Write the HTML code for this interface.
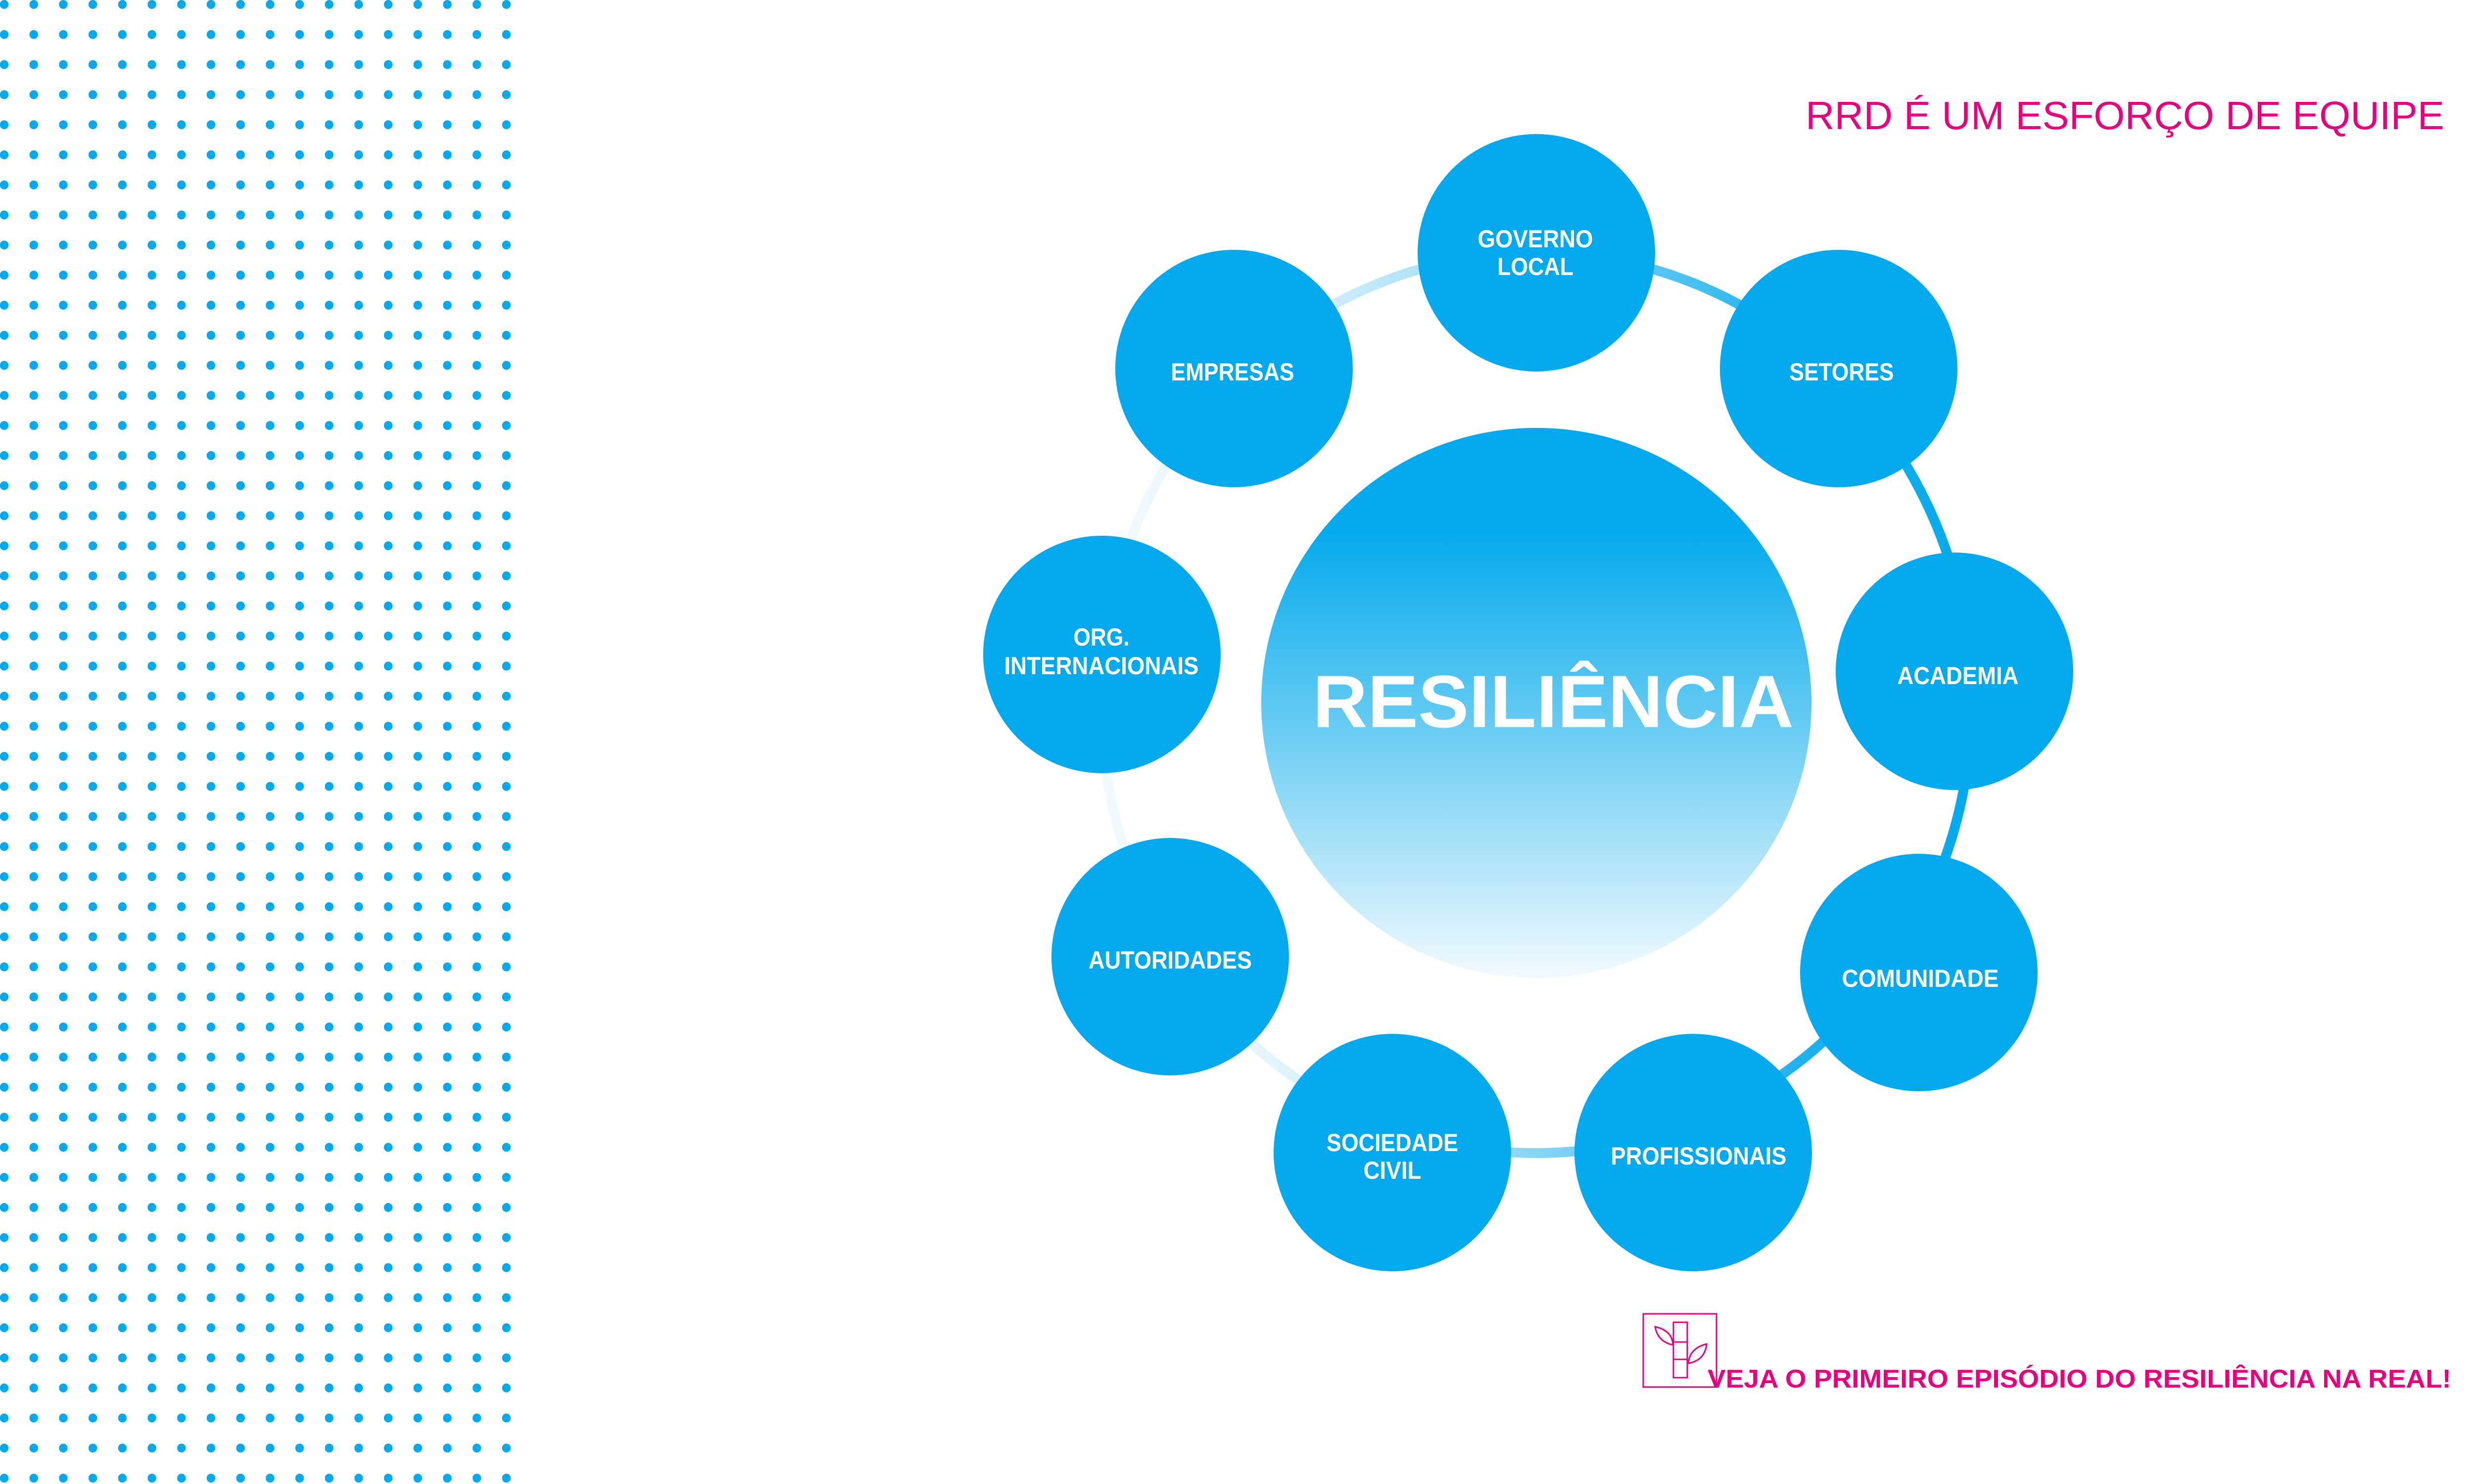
<!DOCTYPE html>
<html><head><meta charset="utf-8"><style>
html,body{margin:0;padding:0;background:#fff;}
svg{display:block;}
</style></head><body>
<svg width="5334" height="3000" viewBox="0 0 5334 3000" xmlns="http://www.w3.org/2000/svg">
<defs>
<pattern id="dots" x="0" y="0" width="59.7" height="60.8" patternUnits="userSpaceOnUse">
<ellipse cx="8.5" cy="9" rx="8.8" ry="9" fill="#03a9ec"/>
</pattern>
<linearGradient id="ring" x1="0" y1="0" x2="1" y2="0">
<stop offset="0" stop-color="#f2fafe"/>
<stop offset="0.2" stop-color="#e2f4fc"/>
<stop offset="0.5" stop-color="#86d5f5"/>
<stop offset="0.8" stop-color="#1fb2ee"/>
<stop offset="1" stop-color="#03a9ec"/>
</linearGradient>
<linearGradient id="big" x1="0" y1="0" x2="0" y2="1">
<stop offset="0.18" stop-color="#03a9ec"/>
<stop offset="0.55" stop-color="#6accf3"/>
<stop offset="1" stop-color="#f2fafe"/>
</linearGradient>
</defs>
<rect x="0" y="0" width="1040" height="3000" fill="url(#dots)"/>

<ellipse cx="3105" cy="1421" rx="880" ry="910" fill="none" stroke="url(#ring)" stroke-width="20"/>

<circle cx="3105" cy="1421" r="556" fill="url(#big)"/>

<g fill="#03a9ec">
<circle cx="3105" cy="511" r="240"/>
<circle cx="2494" cy="745" r="240"/>
<circle cx="3716" cy="745" r="240"/>
<circle cx="2227" cy="1323" r="240"/>
<circle cx="3950" cy="1357" r="240"/>
<circle cx="2365" cy="1934" r="240"/>
<circle cx="3878" cy="1966" r="240"/>
<circle cx="2814" cy="2330" r="240"/>
<circle cx="3422" cy="2330" r="240"/>
</g>

<g fill="#fff" font-family="'Liberation Sans', sans-serif" font-weight="bold" font-size="50" text-anchor="middle">
<text x="3103" y="500" textLength="233" lengthAdjust="spacingAndGlyphs">GOVERNO</text>
<text x="3103" y="556" textLength="154" lengthAdjust="spacingAndGlyphs">LOCAL</text>
<text x="2491" y="769" textLength="249" lengthAdjust="spacingAndGlyphs">EMPRESAS</text>
<text x="3722" y="769" textLength="211" lengthAdjust="spacingAndGlyphs">SETORES</text>
<text x="2226" y="1305" textLength="113" lengthAdjust="spacingAndGlyphs">ORG.</text>
<text x="2226" y="1363" textLength="393" lengthAdjust="spacingAndGlyphs">INTERNACIONAIS</text>
<text x="3957" y="1383" textLength="245" lengthAdjust="spacingAndGlyphs">ACADEMIA</text>
<text x="2365" y="1958" textLength="330" lengthAdjust="spacingAndGlyphs">AUTORIDADES</text>
<text x="3881" y="1995" textLength="317" lengthAdjust="spacingAndGlyphs">COMUNIDADE</text>
<text x="2814" y="2327" textLength="266" lengthAdjust="spacingAndGlyphs">SOCIEDADE</text>
<text x="2814" y="2383" textLength="117" lengthAdjust="spacingAndGlyphs">CIVIL</text>
<text x="3433" y="2354" textLength="355" lengthAdjust="spacingAndGlyphs">PROFISSIONAIS</text>
<text x="3139" y="1470" font-size="150" textLength="972" lengthAdjust="spacingAndGlyphs">RESILIÊNCIA</text>
</g>

<text x="3649" y="261" font-family="'Liberation Sans', sans-serif" font-size="80" fill="#e6007e" textLength="1291" lengthAdjust="spacingAndGlyphs">RRD É UM ESFORÇO DE EQUIPE</text>

<g fill="none" stroke="#e6007e" stroke-width="3">
<rect x="3321" y="2656" width="148" height="148"/>
<rect x="3382" y="2673" width="28" height="112"/>
<line x1="3382" y1="2713" x2="3410" y2="2713"/>
<line x1="3382" y1="2748" x2="3410" y2="2748"/>
<path d="M3345 2682 Q3380 2690 3381 2719 Q3350 2712 3345 2682 Z"/>
<path d="M3449 2717 Q3446 2750 3412 2756 Q3415 2725 3449 2717 Z"/>
</g>
<text x="3451" y="2805" font-family="'Liberation Sans', sans-serif" font-weight="bold" font-size="52" fill="#e6007e" textLength="1503" lengthAdjust="spacingAndGlyphs">VEJA O PRIMEIRO EPISÓDIO DO RESILIÊNCIA NA REAL!</text>
</svg>
</body></html>
